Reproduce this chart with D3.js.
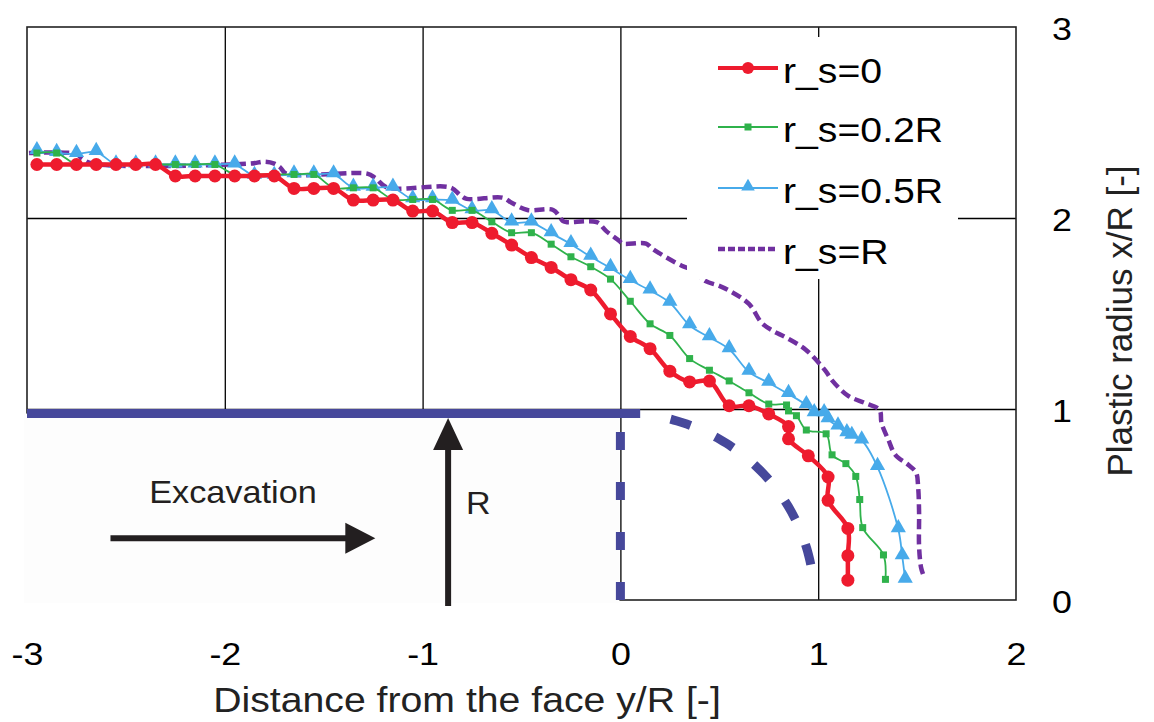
<!DOCTYPE html>
<html>
<head>
<meta charset="utf-8">
<script src="https://cdn.jsdelivr.net/npm/d3@7"></script>
<style>
  html, body { margin: 0; padding: 0; background: #ffffff; }
  svg { display: block; font-family: "Liberation Sans", Arial, sans-serif; }
</style>
</head>
<body>
<svg id="chart" width="1154" height="722"></svg>
<script>
// ---------------- data ----------------
const xTicks = [-3, -2, -1, 0, 1, 2];
const yTicks = [0, 1, 2, 3];
const xTitle = "Distance from the face y/R [-]";
const yTitle = "Plastic radius x/R [-]";
const seriesNames = ["r_s=0", "r_s=0.2R", "r_s=0.5R", "r_s=R"];

// r_s = 0 (red, circles)
const rs0 = [
  [-2.95,2.28],[-2.85,2.28],[-2.75,2.28],[-2.65,2.28],[-2.55,2.28],[-2.45,2.28],[-2.35,2.28],
  [-2.25,2.22],[-2.15,2.22],[-2.05,2.22],[-1.95,2.22],[-1.85,2.22],[-1.75,2.22],
  [-1.65,2.155],[-1.55,2.155],[-1.45,2.155],
  [-1.35,2.094],[-1.25,2.094],[-1.15,2.094],
  [-1.05,2.036],[-0.95,2.036],
  [-0.85,1.976],[-0.75,1.976],[-0.65,1.92],[-0.55,1.858],[-0.45,1.793],[-0.35,1.741],
  [-0.25,1.677],[-0.15,1.623],[-0.05,1.498],[0.05,1.38],[0.15,1.316],[0.25,1.198],
  [0.35,1.142],[0.45,1.146],[0.55,1.017],[0.65,1.017],[0.75,0.974],[0.85,0.908],
  [0.85,0.844],[0.95,0.755],[1.05,0.644],[1.05,0.522],[1.15,0.375],[1.15,0.232],[1.15,0.104]
];
// r_s = 0.2R (green, squares)
const rs02 = [
  [-2.95,2.34],[-2.85,2.34],[-2.75,2.28],[-2.65,2.28],[-2.55,2.28],[-2.45,2.28],[-2.35,2.28],
  [-2.25,2.28],[-2.15,2.28],[-2.05,2.28],
  [-1.95,2.228],[-1.85,2.228],[-1.75,2.228],[-1.65,2.228],[-1.55,2.228],
  [-1.45,2.158],[-1.35,2.158],[-1.25,2.158],
  [-1.15,2.097],[-1.05,2.097],[-0.95,2.097],
  [-0.85,2.04],[-0.75,2.04],[-0.65,1.98],[-0.55,1.923],[-0.45,1.923],[-0.35,1.863],
  [-0.25,1.797],[-0.15,1.745],[-0.05,1.68],[0.05,1.564],[0.15,1.446],[0.25,1.385],
  [0.35,1.264],[0.45,1.203],[0.55,1.147],[0.65,1.085],[0.75,1.026],[0.84,1.021],
  [0.85,0.99],[0.89,0.965],[0.94,0.89],[1.04,0.87],[1.07,0.76],[1.14,0.714],
  [1.19,0.647],[1.21,0.526],[1.225,0.379],[1.33,0.236],[1.34,0.108]
];
// r_s = 0.5R (blue, triangles)
const rs05 = [
  [-2.95,2.35],[-2.85,2.34],[-2.75,2.335],[-2.65,2.345],
  [-2.55,2.28],[-2.45,2.28],[-2.35,2.28],[-2.25,2.28],[-2.15,2.28],[-2.05,2.28],[-1.95,2.28],
  [-1.85,2.22],[-1.75,2.22],[-1.65,2.228],[-1.55,2.228],[-1.45,2.228],
  [-1.35,2.158],[-1.25,2.158],[-1.15,2.158],
  [-1.05,2.097],[-0.95,2.097],[-0.85,2.09],[-0.75,2.04],[-0.65,2.04],
  [-0.55,1.976],[-0.45,1.976],[-0.35,1.92],[-0.25,1.863],[-0.15,1.797],[-0.05,1.738],
  [0.05,1.675],[0.15,1.62],[0.25,1.556],[0.35,1.4375],[0.45,1.375],[0.55,1.3125],
  [0.65,1.194],[0.75,1.137],[0.85,1.078],[0.94,1.02],[0.98,0.977],[1.03,0.977],
  [1.05,0.946],[1.10,0.908],[1.145,0.873],[1.17,0.859],[1.22,0.835],[1.30,0.696],
  [1.405,0.37],[1.425,0.228],[1.44,0.106]
];
// r_s = R (purple, dashed, no markers)
const rsR = [
  [-2.99,2.34],[-2.75,2.335],[-2.72,2.31],[-2.67,2.285],[-1.87,2.285],[-1.80,2.295],
  [-1.75,2.285],[-1.72,2.265],[-1.69,2.232],[-1.28,2.232],[-1.24,2.21],[-1.18,2.16],
  [-0.86,2.16],[-0.81,2.12],[-0.777,2.10],[-0.594,2.106],[-0.55,2.08],[-0.47,2.042],
  [-0.34,2.042],[-0.29,1.984],[-0.27,1.978],[-0.12,1.978],[-0.07,1.93],[-0.005,1.88],
  [0.01,1.866],[0.13,1.866],[0.16,1.84],[0.31,1.75],[0.36,1.73],[0.43,1.67],
  [0.5,1.645],[0.55,1.62],[0.65,1.55],[0.715,1.45],[0.77,1.41],[0.836,1.375],
  [0.937,1.31],[1.037,1.2],[1.07,1.15],[1.15,1.07],[1.24,1.03],[1.31,0.995],
  [1.32,0.927],[1.355,0.838],[1.39,0.76],[1.455,0.708],[1.495,0.667],[1.505,0.594],
  [1.51,0.458],[1.51,0.28],[1.52,0.17],[1.53,0.135]
];

// tunnel geometry (excavated face, R = 1)
const faceLevel = [[-3, 0.976], [0.1, 0.976]];
const faceVertical = [[0, 0], [0, 0.91]];
const arcRadius = 0.98;
const arcAngles = [75, 8];   // degrees

// annotations (data coordinates)
const excavationArrow = [[-2.578, 0.323], [-1.239, 0.323]];
const radiusArrow = [[-0.871, -0.031], [-0.871, 0.953]];
const excavationLabel = { text: "Excavation", pos: [-2.382, 0.51] };
const radiusLabel = { text: "R", pos: [-0.78, 0.448] };

// ---------------- drawing ----------------
const svg = d3.select("#chart");
const x = d3.scaleLinear().domain([-3, 2]).range([27, 1016]);
const y = d3.scaleLinear().domain([0, 3]).range([600, 27]);
const STRETCH = 1.12;
const FONT = "'Liberation Sans', Arial, sans-serif";

function stretch(sel, k) {
  sel.each(function () {
    const w = this.getComputedTextLength();
    d3.select(this).attr("textLength", w * k).attr("lengthAdjust", "spacingAndGlyphs");
  });
}

svg.append("rect").attr("width", 1154).attr("height", 722).attr("fill", "#ffffff");

// gridlines via axes
const gx = svg.append("g").attr("transform", `translate(0,${y(0)})`)
  .call(d3.axisBottom(x).tickValues(xTicks.slice(1, -1)).tickSize(-(y(0) - y(3))).tickFormat(""));
gx.select(".domain").remove();
gx.selectAll("line").attr("stroke", "#000").attr("stroke-width", 1.3);

const gy = svg.append("g").attr("transform", `translate(${x(-3)},0)`)
  .call(d3.axisLeft(y).tickValues(yTicks.slice(1, -1)).tickSize(-(x(2) - x(-3))).tickFormat(""));
gy.select(".domain").remove();
gy.selectAll("line").attr("stroke", "#000").attr("stroke-width", 1.3);

// plot frame
svg.append("rect")
  .attr("x", x(-3)).attr("y", y(3))
  .attr("width", x(2) - x(-3)).attr("height", y(0) - y(3))
  .attr("fill", "none").attr("stroke", "#222").attr("stroke-width", 1.6);

// excavated zone mask (bottom-left of the plot)
svg.append("rect")
  .attr("x", x(-3) - 3).attr("y", y(0.976))
  .attr("width", x(0) - 1 - (x(-3) - 3)).attr("height", y(0) + 3 - y(0.976))
  .attr("fill", "#fdfdfd");

// tick labels via axes
const axB = svg.append("g").attr("transform", `translate(0,${y(0)})`)
  .call(d3.axisBottom(x).tickValues(xTicks).tickSize(0).tickPadding(42).tickFormat(d => String(d)));
axB.select(".domain").remove();
axB.selectAll("text").attr("font-size", 32).attr("fill", "#000").attr("font-family", FONT);
stretch(axB.selectAll("text"), STRETCH);

const axR = svg.append("g").attr("transform", `translate(${x(2)},0)`)
  .call(d3.axisRight(y).tickValues(yTicks).tickSize(0).tickPadding(36).tickFormat(d => String(d)));
axR.select(".domain").remove();
axR.selectAll("text").attr("font-size", 32).attr("fill", "#000").attr("dy", "0.4em").attr("font-family", FONT);
stretch(axR.selectAll("text"), STRETCH);

// axis titles
const xt = svg.append("text").attr("x", 467).attr("y", 712).attr("text-anchor", "middle")
  .attr("font-size", 35).attr("fill", "#222").text(xTitle);
stretch(xt, STRETCH);
svg.append("text").attr("transform", "translate(1132,321) rotate(-90)")
  .attr("text-anchor", "middle").attr("font-size", 35).attr("fill", "#222").text(yTitle);

// tunnel face lines
const faceColor = "#46489b";
const lin = d3.line().x(d => x(d[0])).y(d => y(d[1]));
svg.append("path").attr("d", lin(faceLevel)).attr("fill", "none")
  .attr("stroke", faceColor).attr("stroke-width", 9);
svg.append("path").attr("d", lin(faceVertical)).attr("fill", "none")
  .attr("stroke", faceColor).attr("stroke-width", 9).attr("stroke-dasharray", "18,32");
const arcPts = d3.range(arcAngles[0], arcAngles[1] - 0.5, -1).map(a => {
  const r = a * Math.PI / 180;
  return [arcRadius * Math.cos(r), arcRadius * Math.sin(r)];
});
svg.append("path").attr("d", lin(arcPts)).attr("fill", "none")
  .attr("stroke", faceColor).attr("stroke-width", 9).attr("stroke-dasharray", "21,27");

// series
const curve = d3.line().x(d => x(d[0])).y(d => y(d[1])).curve(d3.curveCatmullRom.alpha(0.5));
const colors = { red: "#ee1b2e", green: "#2fb24b", blue: "#47aaea", purple: "#7030a0" };

svg.append("path").attr("d", curve(rsR)).attr("fill", "none")
  .attr("stroke", colors.purple).attr("stroke-width", 4.5).attr("stroke-dasharray", "10,5");

svg.append("path").attr("d", curve(rs05)).attr("fill", "none")
  .attr("stroke", colors.blue).attr("stroke-width", 1.8);
svg.append("g").selectAll("path").data(rs05).join("path")
  .attr("transform", d => `translate(${x(d[0])},${y(d[1]) - 1.5})`)
  .attr("d", d3.symbol().type(d3.symbolTriangle).size(100))
  .attr("fill", colors.blue);

svg.append("path").attr("d", curve(rs02)).attr("fill", "none")
  .attr("stroke", colors.green).attr("stroke-width", 1.8);
svg.append("g").selectAll("rect").data(rs02).join("rect")
  .attr("x", d => x(d[0]) - 3.5).attr("y", d => y(d[1]) - 3.5)
  .attr("width", 7).attr("height", 7).attr("fill", colors.green);

svg.append("path").attr("d", curve(rs0)).attr("fill", "none")
  .attr("stroke", colors.red).attr("stroke-width", 4.5);
svg.append("g").selectAll("circle").data(rs0).join("circle")
  .attr("cx", d => x(d[0])).attr("cy", d => y(d[1])).attr("r", 6.5)
  .attr("fill", colors.red);

// legend
svg.append("rect").attr("x", 687).attr("y", 37).attr("width", 271).attr("height", 242)
  .attr("fill", "#ffffff");
const legRows = [
  { name: seriesNames[0], c: colors.red, w: 4, dash: null, m: "circle", ly: 68 },
  { name: seriesNames[1], c: colors.green, w: 1.8, dash: null, m: "square", ly: 127 },
  { name: seriesNames[2], c: colors.blue, w: 1.8, dash: null, m: "triangle", ly: 188 },
  { name: seriesNames[3], c: colors.purple, w: 4.5, dash: "7,3", m: null, ly: 249 }
];
const lg = svg.append("g");
legRows.forEach(r => {
  lg.append("line").attr("x1", 718).attr("x2", 778).attr("y1", r.ly).attr("y2", r.ly)
    .attr("stroke", r.c).attr("stroke-width", r.w).attr("stroke-dasharray", r.dash);
  if (r.m === "circle") lg.append("circle").attr("cx", 748).attr("cy", r.ly).attr("r", 6).attr("fill", r.c);
  if (r.m === "square") lg.append("rect").attr("x", 744.5).attr("y", r.ly - 3.5).attr("width", 7).attr("height", 7).attr("fill", r.c);
  if (r.m === "triangle") lg.append("path").attr("transform", `translate(748,${r.ly - 1.5})`)
    .attr("d", d3.symbol().type(d3.symbolTriangle).size(80)).attr("fill", r.c);
  const t = lg.append("text").attr("x", 783).attr("y", r.ly + 15).attr("font-size", 35)
    .attr("fill", "#000").text(r.name);
  stretch(t, STRETCH);
});

// annotations
const annColor = "#231f20";
function arrow(p0, p1, headLen, headW) {
  const X0 = x(p0[0]), Y0 = y(p0[1]), X1 = x(p1[0]), Y1 = y(p1[1]);
  const L = Math.hypot(X1 - X0, Y1 - Y0), ux = (X1 - X0) / L, uy = (Y1 - Y0) / L;
  const bx = X1 - ux * headLen, by = Y1 - uy * headLen;
  svg.append("line").attr("x1", X0).attr("y1", Y0).attr("x2", bx + ux * 2).attr("y2", by + uy * 2)
    .attr("stroke", annColor).attr("stroke-width", 6);
  svg.append("polygon").attr("points", [
    [X1, Y1], [bx - uy * headW / 2, by + ux * headW / 2], [bx + uy * headW / 2, by - ux * headW / 2]
  ].map(p => p.join(",")).join(" ")).attr("fill", annColor);
}
arrow(excavationArrow[0], excavationArrow[1], 30, 31);
arrow(radiusArrow[0], radiusArrow[1], 32, 30);
const et = svg.append("text").attr("x", x(excavationLabel.pos[0])).attr("y", y(excavationLabel.pos[1]))
  .attr("font-size", 32).attr("fill", annColor).text(excavationLabel.text);
stretch(et, 1.07);
const rt = svg.append("text").attr("x", x(radiusLabel.pos[0])).attr("y", y(radiusLabel.pos[1]))
  .attr("font-size", 31).attr("fill", annColor).text(radiusLabel.text);
stretch(rt, 1.1);
</script>
</body>
</html>
